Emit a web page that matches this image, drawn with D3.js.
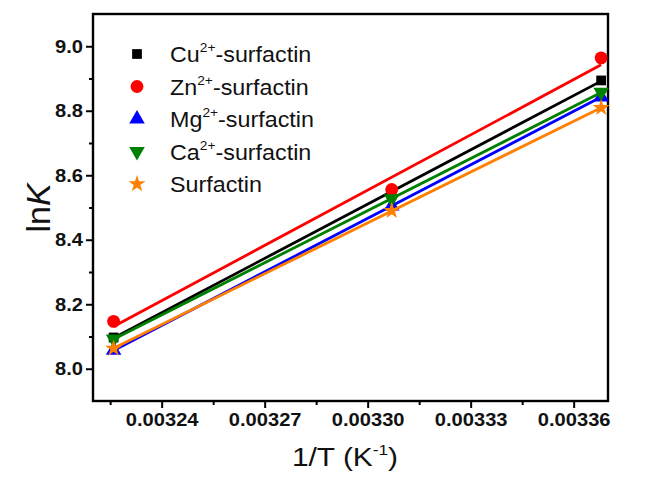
<!doctype html>
<html>
<head>
<meta charset="utf-8">
<script src="https://cdn.jsdelivr.net/npm/d3@7"></script>
<style>
  html, body { margin: 0; padding: 0; background: #fff; }
  svg { display: block; font-family: "Liberation Sans", Arial, sans-serif; }
</style>
</head>
<body>
<script>
// Values: x = 1/T, y = lnK at three temperatures.
const invT = [0.003226, 0.003307, 0.003368];
const cuK   = [8.097, 8.546, 8.894];
const znK   = [8.147, 8.556, 8.964];
const mgK   = [8.057, 8.505, 8.843];
const caK   = [8.092, 8.527, 8.857];
const surfK = [8.063, 8.490, 8.809];

const names  = ["Cu", "Zn", "Mg", "Ca", "Surfactin"];
const sups   = ["2+", "2+", "2+", "2+", ""];
const colors = ["#000000", "#ff0000", "#0000ff", "#008000", "#ff8000"];
const shapes = ["square", "circle", "up", "down", "star"];
const values = [cuK, znK, mgK, caK, surfK];

const xMajor = [0.00324, 0.00327, 0.00330, 0.00333, 0.00336];
const xMinor = [0.003225, 0.003255, 0.003285, 0.003315, 0.003345];
const yMajor = [8.0, 8.2, 8.4, 8.6, 8.8, 9.0];
const yMinor = [8.1, 8.3, 8.5, 8.7, 8.9];

// Chart dimensions (the reference text is a little wide).
const width = 660;
const height = 479;
const marginTop = 14;
const marginRight = 52;
const marginBottom = 78;
const marginLeft = 93;
const tickStretch = 1.06;
const textStretch = 1.15;
const ink = "#111";

const x = d3.scaleLinear([0.00322, 0.00337], [marginLeft, width - marginRight]);
const y = d3.scaleLinear([7.9, 9.1], [height - marginBottom, marginTop]);

const svg = d3.select("body").append("svg")
    .attr("width", width)
    .attr("height", height)
    .attr("viewBox", [0, 0, width, height]);

const symbolOf = (s) => {
  if (s === "square") return d3.symbol(d3.symbolSquare, 95)();
  if (s === "circle") return d3.symbol(d3.symbolCircle, 130)();
  if (s === "star") return d3.symbol(d3.symbolStar, 90)();
  return d3.symbol(d3.symbolTriangle, 105)();
};
const rot = (s) => s === "down" ? " rotate(180)" : "";

// stretch a text horizontally around its anchor point
function widen(sel) {
  sel.each(function() {
    const t = d3.select(this);
    const tx = +t.attr("x") || 0;
    t.attr("transform", `translate(${tx},0) scale(${tickStretch},1) translate(${-tx},0)`);
  });
}

// Axes
const xAxis = svg.append("g")
    .attr("transform", `translate(0,${height - marginBottom})`);
xAxis.append("g")
    .call(d3.axisBottom(x).tickValues(xMinor).tickSize(4).tickFormat(""))
    .call((g) => g.select(".domain").remove());
xAxis.append("g")
    .call(d3.axisBottom(x).tickValues(xMajor).tickSize(7).tickPadding(5).tickFormat(d3.format(".5f")))
    .call((g) => g.select(".domain").remove())
    .call((g) => g.selectAll("text")
        .attr("font-size", 19).attr("font-weight", "bold").attr("fill", ink)
        .call(widen));
xAxis.selectAll("line").attr("stroke", "#000").attr("stroke-width", 2);

const yAxis = svg.append("g")
    .attr("transform", `translate(${marginLeft},0)`);
yAxis.append("g")
    .call(d3.axisLeft(y).tickValues(yMinor).tickSize(4).tickFormat(""))
    .call((g) => g.select(".domain").remove());
yAxis.append("g")
    .call(d3.axisLeft(y).tickValues(yMajor).tickSize(7).tickPadding(3).tickFormat(d3.format(".1f")))
    .call((g) => g.select(".domain").remove())
    .call((g) => g.selectAll("text")
        .attr("font-size", 19).attr("font-weight", "bold").attr("fill", ink)
        .call(widen));
yAxis.selectAll("line").attr("stroke", "#000").attr("stroke-width", 2);

// Frame
svg.append("rect")
    .attr("x", marginLeft)
    .attr("y", marginTop)
    .attr("width", width - marginLeft - marginRight)
    .attr("height", height - marginTop - marginBottom)
    .attr("fill", "none")
    .attr("stroke", "#000")
    .attr("stroke-width", 2.4);

// Linear fits and points
const fit = (ys) => {
  const mx = d3.mean(invT), my = d3.mean(ys);
  const b = d3.sum(invT, (v, i) => (v - mx) * (ys[i] - my)) / d3.sum(invT, (v) => (v - mx) ** 2);
  return (v) => my + b * (v - mx);
};

values.forEach((ys, k) => {
  const f = fit(ys);
  const ends = d3.extent(invT);
  svg.append("line")
      .attr("x1", x(ends[0])).attr("y1", y(f(ends[0])))
      .attr("x2", x(ends[1])).attr("y2", y(f(ends[1])))
      .attr("stroke", colors[k])
      .attr("stroke-width", 2.8);
  svg.append("g")
    .selectAll("path")
    .data(invT)
    .join("path")
      .attr("transform", (d, i) => `translate(${x(d)},${y(ys[i])})${rot(shapes[k])}`)
      .attr("d", symbolOf(shapes[k]))
      .attr("fill", colors[k]);
});

// Legend
const legend = svg.append("g");
names.forEach((n, k) => {
  const ly = 54 + k * 32.5;
  legend.append("path")
      .attr("transform", `translate(137,${ly})${rot(shapes[k])}`)
      .attr("d", symbolOf(shapes[k]))
      .attr("fill", colors[k]);
  const t = legend.append("text")
      .attr("transform", `translate(170,${ly + 8}) scale(1.06,1)`)
      .attr("font-size", 22)
      .attr("fill", ink);
  t.append("tspan").text(n);
  if (sups[k]) {
    t.append("tspan").attr("font-size", 13).attr("dy", -10).text(sups[k]);
    t.append("tspan").attr("dy", 10).text("-surfactin");
  }
});

// Axis titles
const xt = svg.append("text")
    .attr("transform", `translate(345,466) scale(${textStretch},1)`)
    .attr("text-anchor", "middle")
    .attr("font-size", 26)
    .attr("fill", ink);
xt.append("tspan").text("1/T (K");
xt.append("tspan").attr("font-size", 15).attr("dy", -11).text("-1");
xt.append("tspan").attr("dy", 11).text(")");

const yt = svg.append("text")
    .attr("transform", "translate(50,208) rotate(-90)")
    .attr("text-anchor", "middle")
    .attr("font-size", 34)
    .attr("fill", ink);
yt.append("tspan").text("ln");
yt.append("tspan").attr("font-style", "italic").text("K");
</script>
</body>
</html>
